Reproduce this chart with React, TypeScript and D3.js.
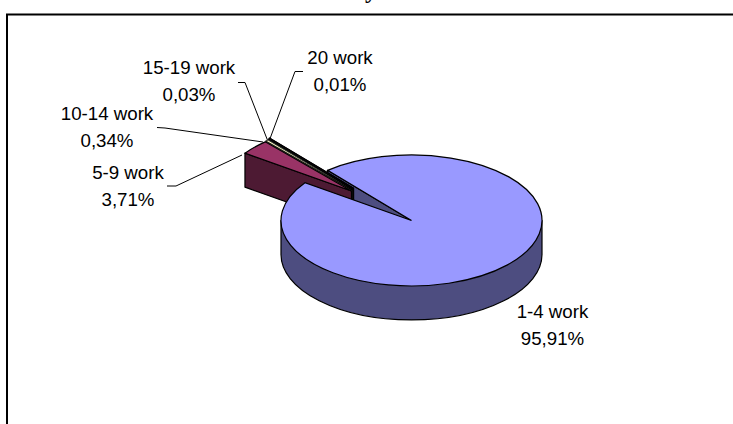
import React from "react";
import * as d3 from "d3";

const categories = ["1-4 work", "5-9 work", "10-14 work", "15-19 work", "20 work"];
const percentages = [95.91, 3.71, 0.34, 0.03, 0.01];
const percentLabels = ["95,91%", "3,71%", "0,34%", "0,03%", "0,01%"];
const topColors = ["#9999ff", "#993366", "#ffffcc", "#ccffff", "#660066"];
const wallColors = ["#4d4d80", "#4d1a33", "#808066", "#668080", "#330033"];

// label anchor (centre x, first baseline y) and where its leader line runs
const labelPos = [
  { x: 552.5, y: 318, leader: null },
  { x: 128, y: 179, leader: [[167, 186], [176, 186], [242, 155]] },
  { x: 107, y: 120, leader: [[157, 127.5], [165, 128], [263, 142]] },
  { x: 189, y: 74, leader: [[238, 82.5], [245, 82.5], [268, 141.5]] },
  { x: 340, y: 64, leader: [[303, 71.5], [295, 71.5], [269.5, 140]] },
];

const width = 733;
const height = 424;
const cx = 411.5;
const cy = 220.5;
const rx = 130.5;
const ry = 65.5;
const depth = 34;
const explode = { x: -60, y: -29.5 };
const fontFamily = "'Liberation Sans', Arial, sans-serif";

export default function App() {
  const rad = Math.PI / 180;
  const pie = d3
    .pie<number>()
    .sort(null)
    .startAngle(-40 * rad)
    .endAngle(320 * rad);
  const slices = pie(percentages);
  const arc = d3
    .arc<d3.PieArcDatum<number>>()
    .innerRadius(0)
    .outerRadius(rx);
  const leaderLine = d3.line();

  // point on the flattened rim for a pie angle
  const rim = (a: number) => [rx * Math.sin(a), -ry * Math.cos(a)];

  const main = slices[0];
  const [ux, uy] = rim(main.startAngle);

  // the cut face of the big slice that shows through the gap
  const cutFace = `M${cx},${cy}L${cx + ux},${cy + uy}v${depth}L${cx},${cy + depth}Z`;
  const mainWall = `M${cx - rx},${cy}v${depth}A${rx},${ry} 0 0 0 ${cx + rx},${cy + depth}V${cy}Z`;

  const stroke = { stroke: "#000", strokeWidth: 1.2, strokeLinejoin: "round" as const };

  // back slices first, so each wall is covered by the slice in front of it
  const small = slices
    .map((s, i) => ({ s, i }))
    .slice(1)
    .reverse();

  return (
    <svg
      width={width}
      height={height}
      style={{ position: "absolute", left: 0, top: 0, background: "#fff" }}
    >
      <text
        x={371}
        y={-2}
        textAnchor="middle"
        fontFamily="'Liberation Serif', serif"
        fontWeight="bold"
        fontSize={24}
      >
        y
      </text>
      <rect x={7} y={14.5} width={760} height={440} fill="#fff" stroke="#000" strokeWidth={2} />

      {labelPos.map(
        (d, i) =>
          d.leader && (
            <path
              key={i}
              d={leaderLine(d.leader as [number, number][]) as string}
              fill="none"
              stroke="#000"
              strokeWidth={1}
            />
          )
      )}

      <path d={cutFace} fill={wallColors[0]} {...stroke} />

      {small.map(({ s, i }) => {
        const [lx, ly] = rim(s.startAngle);
        // the thin slices sit a little apart from the 5-9 slice
        const k = i - 1;
        const tx = cx + explode.x + k * 0.7;
        const ty = cy + explode.y - k * 0.9;
        return (
          <g key={i}>
            <path
              d={`M${tx},${ty}L${tx + lx},${ty + ly}v${depth}L${tx},${ty + depth}Z`}
              fill={wallColors[i]}
              {...stroke}
            />
            <path
              d={arc(s) as string}
              transform={`translate(${tx},${ty}) scale(1,${ry / rx})`}
              fill={topColors[i]}
              stroke="#000"
              strokeWidth={i === 2 ? 0.7 : 1.2}
              vectorEffect="non-scaling-stroke"
            />
          </g>
        );
      })}

      <path d={mainWall} fill={wallColors[0]} {...stroke} />
      <path
        d={arc(main) as string}
        transform={`translate(${cx},${cy}) scale(1,${ry / rx})`}
        fill={topColors[0]}
        stroke="#000"
        strokeWidth={1.2}
        vectorEffect="non-scaling-stroke"
      />

      {categories.map((c, i) => (
        <text
          key={c}
          x={labelPos[i].x}
          y={labelPos[i].y}
          textAnchor="middle"
          fontFamily={fontFamily}
          fontSize={18.7}
          fill="#000"
        >
          <tspan x={labelPos[i].x}>{c}</tspan>
          <tspan x={labelPos[i].x} dy={26.5}>
            {percentLabels[i]}
          </tspan>
        </text>
      ))}
    </svg>
  );
}
